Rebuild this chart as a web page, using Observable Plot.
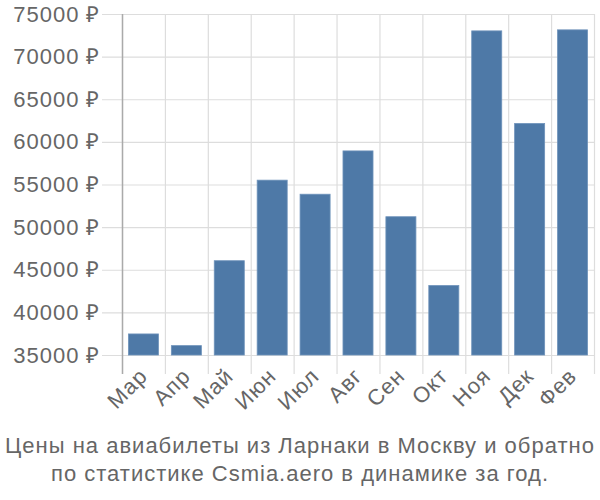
<!DOCTYPE html>
<html>
<head>
<meta charset="utf-8">
<script src="https://cdn.jsdelivr.net/npm/d3@7"></script>
<script src="https://cdn.jsdelivr.net/npm/@observablehq/plot@0.6"></script>
<style>
  html, body { margin: 0; padding: 0; background: #fff; }
  #chart { width: 600px; }
  #chart svg text { letter-spacing: 1px; }
  .caption {
    font-family: "Liberation Sans", Arial, sans-serif;
    font-size: 22px;
    letter-spacing: 1px;
    color: #666;
    text-align: center;
    line-height: 28px;
    margin-top: 7px;
    white-space: nowrap;
  }
</style>
</head>
<body>
<div id="chart"></div>
<script>
const months = ["Мар", "Апр", "Май", "Июн", "Июл", "Авг", "Сен", "Окт", "Ноя", "Дек", "Фев"];
const prices = [37470, 36100, 46060, 55510, 53860, 58940, 51220, 43150, 73020, 62160, 73140];
const yTicks = [35000, 40000, 45000, 50000, 55000, 60000, 65000, 70000, 75000];
const captionLines = [
  "Цены на авиабилеты из Ларнаки в Москву и обратно",
  "по статистике Csmia.aero в динамике за год."
];

const data = months.map((m, i) => ({month: m, price: prices[i]}));

const W = 600, H = 425, mL = 122, mR = 6, mT = 14, mB = 70;
const step = (W - mL - mR) / months.length;

const chart = Plot.plot({
  width: W,
  height: H,
  marginLeft: mL,
  marginRight: mR,
  marginTop: mT,
  marginBottom: mB,
  style: {fontFamily: "'Liberation Sans', Arial, sans-serif", fontSize: "22px", color: "#666", background: "#fff"},
  x: {domain: months, paddingInner: 0.3, paddingOuter: 0.15, round: false, label: null},
  y: {domain: [35000, 75000], label: null},
  marks: [
    Plot.ruleY(yTicks, {stroke: "#dddddd", strokeWidth: 1.2, insetLeft: -20}),
    Plot.ruleX(months, {x: d => d, dx: -step / 2, stroke: "#dddddd", strokeWidth: 1.2, insetBottom: -19}),
    Plot.ruleX([months[months.length - 1]], {x: d => d, dx: step / 2, stroke: "#dddddd", strokeWidth: 1.2, insetBottom: -19}),
    Plot.barY(data, {x: "month", y1: yTicks[0], y2: "price", fill: "#4e79a7", stroke: "#6f93bb", strokeWidth: 0.8}),
    Plot.ruleX([months[0]], {x: d => d, dx: -step / 2, stroke: "#aaa", strokeWidth: 1.5, insetBottom: -19}),
    Plot.axisY({ticks: yTicks, tickFormat: d => d + " ₽", tickSize: 0, tickPadding: 22, fill: "#666", fontSize: 22}),
    Plot.axisX({tickSize: 0, tickRotate: -45, tickPadding: 17, fill: "#666", fontSize: 22})
  ]
});

document.getElementById("chart").appendChild(chart);
const cap = document.createElement("div");
cap.className = "caption";
cap.innerHTML = captionLines.join("<br>");
document.getElementById("chart").appendChild(cap);
</script>
</body>
</html>
